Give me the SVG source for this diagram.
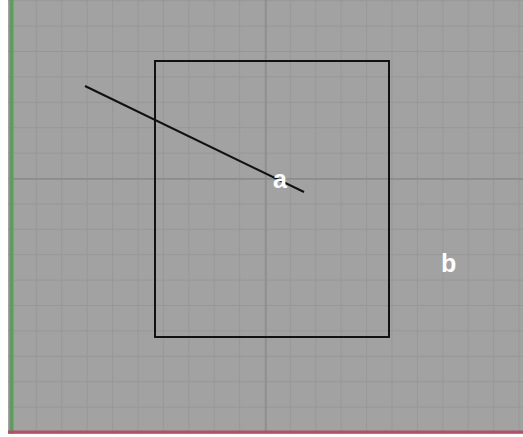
<svg xmlns="http://www.w3.org/2000/svg" width="523" height="437" viewBox="0 0 523 437">
<defs>
<pattern id="minor" x="10.5" y="432" width="25.4" height="25.4" patternUnits="userSpaceOnUse">
<path d="M0 0H25.4M0 0V25.4" fill="none" stroke="#939393" stroke-width="1.3"/>
</pattern>
</defs>
<style>
.shape{fill:none;stroke:#111;stroke-width:2}
.lbl{font-family:"Liberation Sans",Arial,sans-serif;font-size:25px;font-weight:bold;fill:#fff}
</style>
<rect width="523" height="437" fill="#fff"/>
<g id="viewport">
<rect x="8" y="0" width="515" height="434" fill="#a2a2a2"/>
<rect x="8" y="0" width="515" height="434" fill="url(#minor)"/>
<path d="M266 0V432M10 179H523" stroke="#8a8a8a" stroke-width="1.3" fill="none"/>
<line x1="11.5" y1="0" x2="11.5" y2="434" stroke="#5f9c5f" stroke-width="4"/>
<line x1="8" y1="432" x2="523" y2="432" stroke="#b0506a" stroke-width="3"/>
</g>
<g id="rectangle">
<rect class="shape" x="155" y="61" width="234" height="276"/>
</g>
<g id="connectors">
<line class="shape" x1="85" y1="86" x2="304" y2="192" stroke-width="1.8"/>
</g>
<g id="node-a">
<text class="lbl" x="273" y="188">a</text>
</g>
<g id="node-b">
<text class="lbl" x="441" y="272">b</text>
</g>
</svg>
